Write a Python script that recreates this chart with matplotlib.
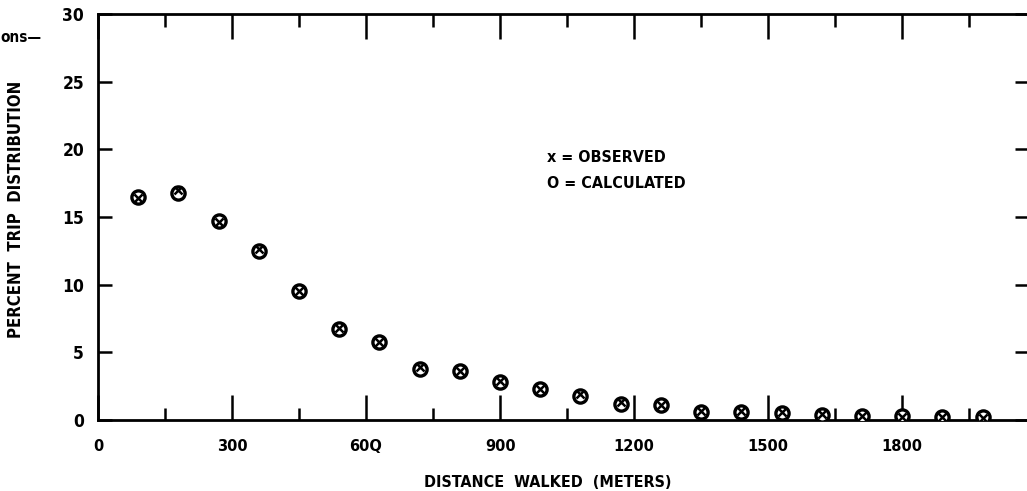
import numpy as np
from matplotlib import pyplot as plt
from matplotlib.ticker import FixedLocator
from matplotlib import font_manager

# distance walked (meters), 90 m bins
distance = [90, 180, 270, 360, 450, 540, 630, 720, 810, 900, 990,
            1080, 1170, 1260, 1350, 1440, 1530, 1620, 1710, 1800, 1890, 1980]
calculated = [16.5, 16.8, 14.7, 12.5, 9.5, 6.7, 5.8, 3.8, 3.6, 2.8, 2.3,
              1.8, 1.2, 1.1, 0.6, 0.6, 0.5, 0.4, 0.3, 0.3, 0.25, 0.2]
observed = [16.4, 17.0, 14.6, 12.6, 9.5, 6.8, 5.8, 3.9, 3.6, 2.9, 2.3,
            1.9, 1.3, 1.1, 0.7, 0.7, 0.6, 0.45, 0.3, 0.25, 0.25, 0.15]

xticks = [0, 300, 600, 900, 1200, 1500, 1800]
xticklabels = ['0', '300', '60Q', '900', '1200', '1500', '1800']
xminor = [150, 450, 750, 1050, 1350, 1650, 1950]
yticks = [0, 5, 10, 15, 20, 25, 30]

# condensed bold face for the labels
cond = font_manager.FontProperties(family='DejaVu Sans', weight='bold', stretch='condensed')

def narrow(size):
    f = cond.copy()
    f.set_size(size)
    return f

fig = plt.figure(figsize=(10.27, 4.91), dpi=100)
ax = fig.add_axes([98/1027, 1-420/491, 931/1027, 406/491])

ax.plot(distance, calculated, 'o', mfc='white', mec='black', ms=9.5, mew=2.4, ls='none', zorder=3)
ax.plot(distance, observed, 'x', color='black', ms=6, mew=1.8, ls='none', zorder=4)

ax.set_xlim(0, 2084)
ax.set_ylim(0, 30)

for s in ax.spines.values():
    s.set_linewidth(2.0)

ax.xaxis.set_major_locator(FixedLocator(xticks))
ax.xaxis.set_minor_locator(FixedLocator(xminor))
ax.set_xticklabels(xticklabels, fontsize=10.5, fontweight='bold', family='DejaVu Sans')
ax.tick_params(axis='x', which='major', direction='in', length=18, width=1.8,
               top=True, bottom=True, pad=14)
ax.tick_params(axis='x', which='minor', direction='in', length=9, width=1.8,
               top=True, bottom=True)

ax.set_yticks(yticks)
ax.set_yticklabels([str(v) for v in yticks], fontproperties=narrow(12.5))
ax.tick_params(axis='y', which='major', direction='in', length=10, width=1.8,
               left=True, right=True, pad=10)

ax.set_xlabel('DISTANCE  WALKED  (METERS)', fontproperties=narrow(11.5))
ax.xaxis.set_label_coords(0.483, -0.135)
ax.set_ylabel('PERCENT  TRIP  DISTRIBUTION', fontproperties=narrow(12))
ax.yaxis.set_label_coords(-0.078, 0.52)

ax.text(1005, 19.4, 'x = OBSERVED', fontproperties=narrow(11.5), va='center', ha='left')
ax.text(1005, 17.5, 'O = CALCULATED', fontproperties=narrow(11.5), va='center', ha='left')

fig.text(0.0, 1-38/491, 'ons—', fontproperties=narrow(11), va='center', ha='left')

fig.savefig('out.png', dpi=100)
